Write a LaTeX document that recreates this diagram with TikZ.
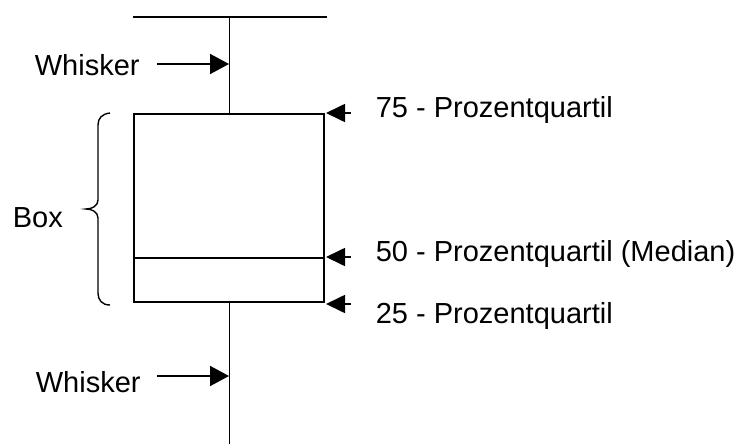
\documentclass[tikz,border=0pt]{standalone}
\usepackage{fontspec}
\setmainfont{Liberation Sans}
\usetikzlibrary{arrows.meta}
\begin{document}
\begin{tikzpicture}[x=1pt,y=-1pt,
  line width=1.7pt,
  lbl/.style={anchor=base west,inner sep=0pt,font=\fontsize{29}{34}\selectfont},
  ptr/.style={-{Triangle[length=19pt,width=20pt]}},
  qptr/.style={-{Triangle[length=19pt,width=18pt]}}]
\useasboundingbox (0,0) rectangle (741,444);

% whisker ends and the box
\coordinate (capL) at (133,17);
\coordinate (capR) at (327,17);
\coordinate (capM) at (229.5,17);
\coordinate (boxTL) at (134,114);
\coordinate (boxBR) at (324,302);
\coordinate (boxTM) at (229.5,114);
\coordinate (boxBM) at (229.5,302);
\coordinate (lowEnd) at (229.5,444);
\coordinate (medL) at (134,258);
\coordinate (medR) at (324,258);

\draw (capL) -- (capR);
\draw (capM) -- (boxTM);
\draw (boxTL) rectangle (boxBR);
\draw (medL) -- (medR);
\draw (boxBM) -- (lowEnd);

% labels
\node[lbl] (wtop) at (34,75) {Whisker};
\node[lbl] (wbot) at (35,392) {Whisker};
\node[lbl] (boxlbl) at (12,227) {Box};
\node[lbl] (q75) at (375,117) {75 - Prozentquartil};
\node[lbl] (q50) at (375,261) {50 - Prozentquartil (Median)};
\node[lbl] (q25) at (375,323) {25 - Prozentquartil};

% whisker pointers
\coordinate (wtTail) at (157,64);
\coordinate (wtTip) at (229,64);
\coordinate (wbTail) at (157,376);
\coordinate (wbTip) at (229,376);
\draw[ptr] (wtTail) -- (wtTip);
\draw[ptr] (wbTail) -- (wbTip);

% quartile pointers
\coordinate (t75) at (351,113);
\coordinate (h75) at (326,113);
\coordinate (t50) at (351,257);
\coordinate (h50) at (326,257);
\coordinate (t25) at (351,304);
\coordinate (h25) at (326,304);
\draw[qptr] (t75) -- (h75);
\draw[qptr] (t50) -- (h50);
\draw[qptr] (t25) -- (h25);

% curly brace beside the box
\draw[line width=1.4pt] (110,113) .. controls (102,114) and (98,118) .. (98,125)
  -- (98,200) .. controls (98,206) and (92,209) .. (86,209)
  .. controls (92,209) and (98,212) .. (98,218)
  -- (98,293) .. controls (98,300) and (102,305) .. (110,305);
\end{tikzpicture}
\end{document}
